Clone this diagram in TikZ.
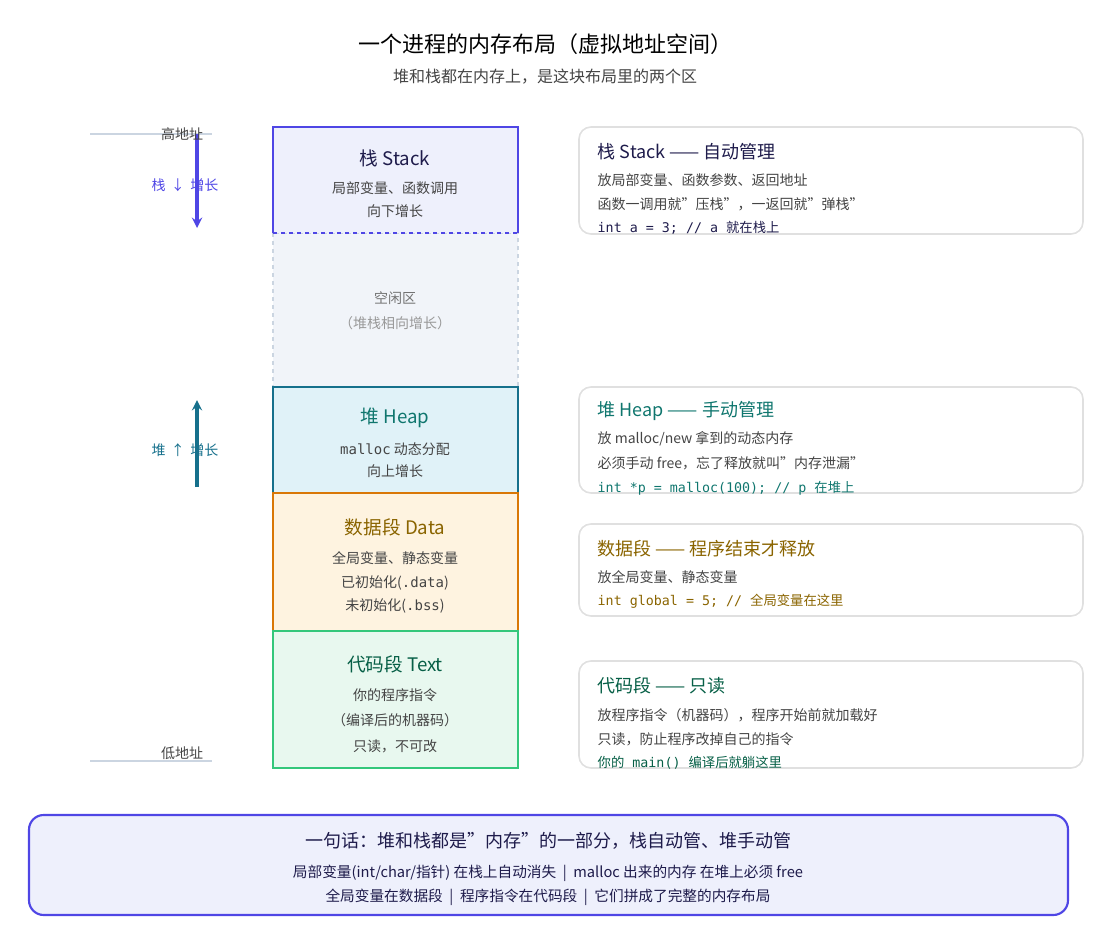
\documentclass[tikz,border=0pt]{standalone}
\usepackage{fontspec}
\setmainfont{Noto Sans CJK SC}
\setmonofont{DejaVu Sans Mono}
\usetikzlibrary{positioning}
\definecolor{stackc}{HTML}{4F46E5}
\definecolor{stackf}{HTML}{EEF0FC}
\definecolor{stackt}{HTML}{1E1B4B}
\definecolor{freec}{HTML}{CBD5E1}
\definecolor{freef}{HTML}{F1F4F9}
\definecolor{heapc}{HTML}{16708C}
\definecolor{heapf}{HTML}{E0F2F8}
\definecolor{heapt}{HTML}{0F766E}
\definecolor{datac}{HTML}{D97706}
\definecolor{dataf}{HTML}{FEF3E0}
\definecolor{datat}{HTML}{8A6400}
\definecolor{textc}{HTML}{34C77B}
\definecolor{textf}{HTML}{E8F8EF}
\definecolor{textt}{HTML}{065F46}
\definecolor{greyt}{HTML}{444444}
\tikzset{seg/.style={draw,line width=1.6pt,inner sep=0pt},
segtitle/.style={font=\fontsize{14}{16}\selectfont},
segline/.style={font=\fontsize{10.5}{12}\selectfont,text=greyt},
card/.style={draw=black!12,line width=1.2pt,rounded corners=9pt},
cardtitle/.style={anchor=west,font=\fontsize{13.5}{16}\selectfont},
cardline/.style={anchor=west,font=\fontsize{10.5}{12}\selectfont,text=greyt},
codeline/.style={anchor=west,font=\ttfamily\fontsize{10}{12}\selectfont}}
\newcommand{\zh}[1]{{\rmfamily #1}}
\begin{document}
\begin{tikzpicture}[x=0.75pt,y=-0.75pt]
\useasboundingbox (0,0) rectangle (1101,935);
% title
\node (title) at (545,44) {\fontsize{16.5}{20}\selectfont 一个进程的内存布局（虚拟地址空间）};
\node[text=greyt] (subtitle) at (545,77) {\fontsize{12}{14}\selectfont 堆和栈都在内存上，是这块布局里的两个区};

% memory segments
\filldraw[seg,fill=freef,draw=freec,dashed,line width=1pt] (273,233) rectangle (518,387);
\filldraw[seg,fill=stackf,draw=stackc] (273,233) -- (273,127) -- (518,127) -- (518,233);
\draw[stackc,dashed,line width=1pt] (273,233) -- (518,233);
\filldraw[seg,fill=heapf,draw=heapc] (273,387) rectangle (518,493);
\filldraw[seg,fill=dataf,draw=datac] (273,493) rectangle (518,631);
\filldraw[seg,fill=textf,draw=textc] (273,631) rectangle (518,768);

\node[segtitle,text=stackt] (stack) at (395,158) {栈 Stack};
\node[segline] (stack1) at (395,188) {局部变量、函数调用};
\node[segline] (stack2) at (395,211) {向下增长};
\node[segline,text=black!55] (free1) at (395,298) {空闲区};
\node[segline,text=black!40] (free2) at (395,323) {（堆栈相向增长）};
\node[segtitle,text=heapt] (heap) at (395,418) {堆 Heap};
\node[segline] (heap1) at (395,449) {{\ttfamily malloc} 动态分配};
\node[segline] (heap2) at (395,471) {向上增长};
\node[segtitle,text=datat] (data) at (395,527) {数据段 Data};
\node[segline] (data1) at (395,558) {全局变量、静态变量};
\node[segline] (data2) at (395,583) {已初始化({\ttfamily .data})};
\node[segline] (data3) at (395,606) {未初始化({\ttfamily .bss})};
\node[segtitle,text=textt] (text) at (395,664) {代码段 Text};
\node[segline] (text1) at (395,695) {你的程序指令};
\node[segline] (text2) at (395,720) {（编译后的机器码）};
\node[segline] (text3) at (395,746) {只读，不可改};

% address marks and growth arrows
\coordinate (hi) at (90,134);
\coordinate (hiend) at (212,134);
\coordinate (lo) at (90,761);
\coordinate (loend) at (212,761);
\draw[freec,line width=1.5pt] (hi) -- (hiend);
\draw[freec,line width=1.5pt] (lo) -- (loend);
\coordinate (sa) at (197,134);
\coordinate (sb) at (197,228);
\coordinate (ha) at (197,487);
\coordinate (hb) at (197,400);
\draw[stackc,line width=2.4pt,-stealth] (sa) -- (sb);
\draw[heapc,line width=2.4pt,-stealth] (ha) -- (hb);
\node[segline] (hiaddr) at (182,134) {高地址};
\node[segline] (loaddr) at (182,753) {低地址};
\node[segline,text=stackc] (sgrow) at (185,185) {栈 \,↓\, 增长};
\node[segline,text=heapc] (hgrow) at (185,450) {堆 \,↑\, 增长};

% explanation cards
\draw[card] (579,127) rectangle (1083,234);
\node[cardtitle,text=stackt] (cstack) at (593,152) {栈 Stack —— 自动管理};
\node[cardline] at (593,180) {放局部变量、函数参数、返回地址};
\node[cardline] at (593,204) {函数一调用就"压栈"，一返回就"弹栈"};
\node[codeline,text=stackt] at (593,228) {int a = 3; // a \zh{就在栈上}};

\draw[card] (579,387) rectangle (1083,493);
\node[cardtitle,text=heapt] (cheap) at (593,411) {堆 Heap —— 手动管理};
\node[cardline] at (593,439) {放 malloc/new 拿到的动态内存};
\node[cardline] at (593,463) {必须手动 free，忘了释放就叫"内存泄漏"};
\node[codeline,text=heapt] at (593,488) {int *p = malloc(100); // p \zh{在堆上}};

\draw[card] (579,524) rectangle (1083,616);
\node[cardtitle,text=datat] (cdata) at (593,549) {数据段 —— 程序结束才释放};
\node[cardline] at (593,577) {放全局变量、静态变量};
\node[codeline,text=datat] at (593,601) {int global = 5; // \zh{全局变量在这里}};

\draw[card] (579,661) rectangle (1083,768);
\node[cardtitle,text=textt] (ctext) at (593,686) {代码段 —— 只读};
\node[cardline] at (593,715) {放程序指令（机器码），程序开始前就加载好};
\node[cardline] at (593,739) {只读，防止程序改掉自己的指令};
\node[codeline,text=textt] at (593,763) {\zh{你的} main() \zh{编译后就躺这里}};

% summary
\filldraw[fill=stackf,draw=stackc,line width=1.6pt,rounded corners=11pt] (29,815) rectangle (1068,915);
\node[text=stackt] (sum) at (548,841) {\fontsize{13.5}{16}\selectfont 一句话：堆和栈都是"内存"的一部分，栈自动管、堆手动管};
\node[text=stackt] (sum1) at (548,873) {\fontsize{11}{13}\selectfont 局部变量(int/char/指针) 在栈上自动消失 \ | \ malloc 出来的内存 在堆上必须 free};
\node[text=stackt] (sum2) at (548,897) {\fontsize{11}{13}\selectfont 全局变量在数据段 \ | \ 程序指令在代码段 \ | \ 它们拼成了完整的内存布局};
\end{tikzpicture}
\end{document}
